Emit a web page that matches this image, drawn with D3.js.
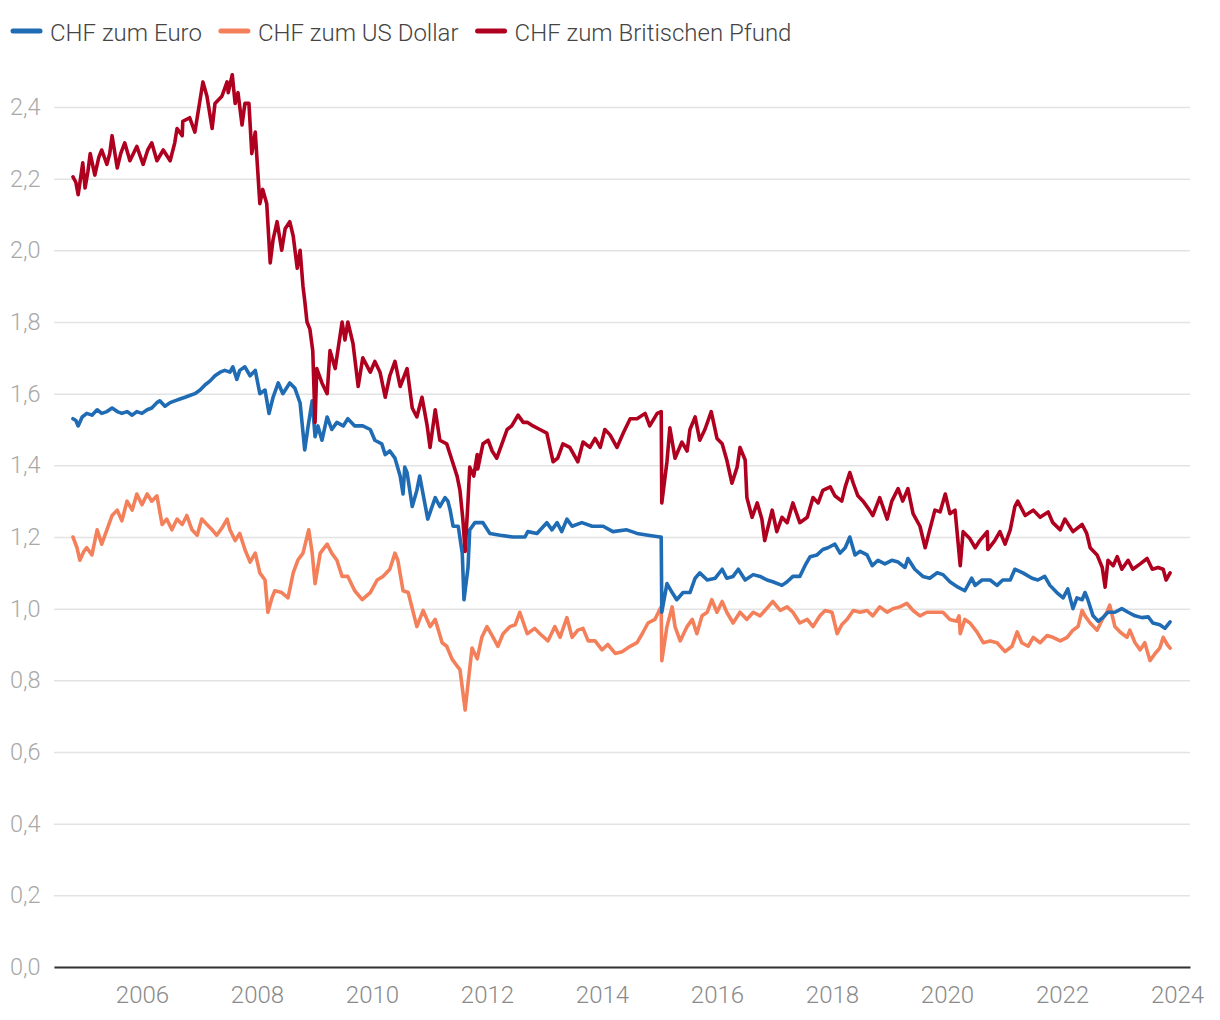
<!DOCTYPE html>
<html>
<head>
<meta charset="utf-8">
<script src="https://cdn.jsdelivr.net/npm/d3@7"></script>
<style>
  html, body { margin: 0; padding: 0; background: #fff; }
  svg { display: block; font-family: Roboto, "Open Sans", sans-serif; }
</style>
</head>
<body>
<svg id="chart" width="1220" height="1020"></svg>
<script>
// ---- Data (decimal year, CHF per unit of foreign currency) ----
const seriesNames = ["CHF zum Euro", "CHF zum US Dollar", "CHF zum Britischen Pfund"];
const seriesColors = ["#1f6bb4", "#f3805a", "#b00020"];

const eurData = [[2004.80,1.53],[2004.85,1.525],[2004.89,1.51],[2004.96,1.535],[2005.04,1.545],[2005.13,1.54],[2005.22,1.555],[2005.30,1.545],[2005.39,1.55],[2005.48,1.56],[2005.57,1.55],[2005.65,1.545],[2005.74,1.55],[2005.83,1.54],[2005.91,1.55],[2006.00,1.545],[2006.09,1.555],[2006.17,1.56],[2006.26,1.575],[2006.31,1.58],[2006.40,1.565],[2006.49,1.575],[2006.57,1.58],[2006.66,1.585],[2006.75,1.59],[2006.83,1.595],[2006.92,1.60],[2007.01,1.61],[2007.10,1.625],[2007.18,1.635],[2007.27,1.65],[2007.36,1.66],[2007.44,1.665],[2007.53,1.66],[2007.58,1.675],[2007.65,1.64],[2007.70,1.665],[2007.79,1.675],[2007.88,1.65],[2007.97,1.665],[2008.05,1.60],[2008.14,1.61],[2008.21,1.545],[2008.28,1.59],[2008.37,1.63],[2008.45,1.60],[2008.57,1.63],[2008.66,1.615],[2008.75,1.574],[2008.83,1.443],[2008.89,1.51],[2008.96,1.58],[2009.01,1.48],[2009.06,1.51],[2009.13,1.47],[2009.22,1.535],[2009.30,1.50],[2009.39,1.52],[2009.50,1.51],[2009.58,1.53],[2009.70,1.51],[2009.84,1.51],[2009.97,1.50],[2010.05,1.47],[2010.17,1.46],[2010.23,1.43],[2010.31,1.44],[2010.40,1.42],[2010.49,1.37],[2010.54,1.32],[2010.57,1.395],[2010.61,1.38],[2010.70,1.285],[2010.78,1.33],[2010.83,1.37],[2010.97,1.25],[2011.10,1.31],[2011.18,1.285],[2011.27,1.31],[2011.32,1.30],[2011.36,1.275],[2011.41,1.23],[2011.50,1.23],[2011.57,1.155],[2011.60,1.025],[2011.67,1.115],[2011.70,1.22],[2011.79,1.24],[2011.93,1.24],[2012.05,1.21],[2012.23,1.205],[2012.45,1.20],[2012.66,1.20],[2012.71,1.215],[2012.87,1.21],[2013.04,1.24],[2013.13,1.22],[2013.22,1.24],[2013.30,1.215],[2013.39,1.25],[2013.48,1.23],[2013.65,1.24],[2013.83,1.23],[2014.02,1.23],[2014.19,1.215],[2014.43,1.22],[2014.61,1.21],[2014.80,1.205],[2015.01,1.20],[2015.03,1.20],[2015.04,0.99],[2015.13,1.07],[2015.22,1.045],[2015.30,1.025],[2015.41,1.045],[2015.53,1.045],[2015.62,1.085],[2015.70,1.10],[2015.83,1.08],[2015.97,1.085],[2016.09,1.11],[2016.17,1.085],[2016.28,1.09],[2016.37,1.11],[2016.49,1.08],[2016.63,1.095],[2016.75,1.09],[2016.87,1.08],[2016.97,1.075],[2017.13,1.065],[2017.22,1.075],[2017.32,1.09],[2017.44,1.09],[2017.53,1.12],[2017.62,1.145],[2017.74,1.15],[2017.84,1.165],[2017.93,1.17],[2018.05,1.18],[2018.14,1.155],[2018.23,1.17],[2018.31,1.20],[2018.40,1.15],[2018.49,1.16],[2018.61,1.15],[2018.70,1.12],[2018.80,1.135],[2018.92,1.125],[2019.04,1.135],[2019.15,1.13],[2019.27,1.115],[2019.32,1.14],[2019.44,1.11],[2019.58,1.09],[2019.70,1.085],[2019.83,1.10],[2019.93,1.095],[2020.05,1.075],[2020.19,1.06],[2020.31,1.05],[2020.43,1.085],[2020.49,1.065],[2020.61,1.08],[2020.75,1.08],[2020.87,1.065],[2020.97,1.08],[2021.10,1.08],[2021.18,1.11],[2021.32,1.10],[2021.48,1.085],[2021.58,1.08],[2021.70,1.09],[2021.79,1.065],[2021.91,1.045],[2022.02,1.03],[2022.10,1.055],[2022.19,1.00],[2022.26,1.03],[2022.35,1.025],[2022.40,1.045],[2022.45,1.025],[2022.54,0.98],[2022.63,0.965],[2022.71,0.975],[2022.80,0.99],[2022.92,0.99],[2023.04,1.00],[2023.15,0.99],[2023.27,0.98],[2023.39,0.975],[2023.50,0.977],[2023.58,0.96],[2023.70,0.955],[2023.79,0.945],[2023.88,0.963]];

const usdData = [[2004.80,1.20],[2004.87,1.17],[2004.92,1.135],[2004.99,1.16],[2005.04,1.17],[2005.13,1.15],[2005.22,1.22],[2005.30,1.18],[2005.39,1.22],[2005.48,1.26],[2005.57,1.275],[2005.65,1.245],[2005.74,1.30],[2005.83,1.275],[2005.91,1.32],[2006.00,1.29],[2006.09,1.32],[2006.17,1.30],[2006.26,1.315],[2006.35,1.235],[2006.43,1.25],[2006.52,1.22],[2006.61,1.25],[2006.70,1.235],[2006.78,1.26],[2006.87,1.22],[2006.96,1.205],[2007.04,1.25],[2007.13,1.235],[2007.22,1.22],[2007.30,1.205],[2007.39,1.225],[2007.48,1.25],[2007.53,1.22],[2007.62,1.19],[2007.70,1.21],[2007.79,1.165],[2007.88,1.13],[2007.97,1.155],[2008.05,1.10],[2008.14,1.08],[2008.19,0.99],[2008.26,1.03],[2008.31,1.05],[2008.43,1.045],[2008.54,1.03],[2008.63,1.10],[2008.71,1.135],[2008.80,1.155],[2008.90,1.22],[2008.96,1.155],[2009.01,1.07],[2009.10,1.155],[2009.22,1.18],[2009.30,1.155],[2009.39,1.135],[2009.48,1.09],[2009.58,1.09],[2009.70,1.05],[2009.83,1.025],[2009.97,1.045],[2010.09,1.08],[2010.19,1.09],[2010.31,1.11],[2010.40,1.155],[2010.45,1.135],[2010.54,1.05],[2010.63,1.045],[2010.78,0.95],[2010.89,0.995],[2011.01,0.95],[2011.10,0.97],[2011.22,0.905],[2011.30,0.895],[2011.39,0.86],[2011.48,0.84],[2011.53,0.83],[2011.62,0.717],[2011.67,0.79],[2011.74,0.89],[2011.83,0.86],[2011.91,0.92],[2012.00,0.95],[2012.09,0.925],[2012.19,0.895],[2012.28,0.93],[2012.40,0.95],[2012.49,0.955],[2012.57,0.99],[2012.70,0.93],[2012.83,0.945],[2012.92,0.93],[2013.06,0.91],[2013.18,0.95],[2013.27,0.92],[2013.39,0.975],[2013.48,0.92],[2013.58,0.94],[2013.67,0.945],[2013.76,0.91],[2013.88,0.91],[2014.00,0.885],[2014.10,0.90],[2014.23,0.875],[2014.35,0.88],[2014.49,0.895],[2014.61,0.905],[2014.70,0.93],[2014.80,0.96],[2014.92,0.97],[2015.01,1.00],[2015.03,1.005],[2015.04,0.855],[2015.13,0.95],[2015.22,1.005],[2015.27,0.95],[2015.36,0.91],[2015.48,0.95],[2015.57,0.97],[2015.65,0.93],[2015.74,0.98],[2015.83,0.99],[2015.91,1.025],[2016.00,0.99],[2016.09,1.02],[2016.17,0.99],[2016.28,0.96],[2016.40,0.99],[2016.52,0.97],[2016.63,0.99],[2016.75,0.98],[2016.89,1.005],[2016.97,1.02],[2017.10,0.995],[2017.22,1.005],[2017.32,0.99],[2017.44,0.96],[2017.57,0.97],[2017.67,0.95],[2017.79,0.98],[2017.88,0.995],[2018.00,0.99],[2018.09,0.93],[2018.17,0.955],[2018.26,0.97],[2018.37,0.995],[2018.49,0.99],[2018.61,0.995],[2018.71,0.98],[2018.83,1.005],[2018.96,0.99],[2019.06,1.00],[2019.18,1.005],[2019.30,1.015],[2019.41,0.995],[2019.53,0.98],[2019.65,0.99],[2019.76,0.99],[2019.93,0.99],[2020.05,0.97],[2020.17,0.965],[2020.21,0.98],[2020.23,0.93],[2020.31,0.97],[2020.40,0.96],[2020.52,0.935],[2020.63,0.905],[2020.75,0.91],[2020.87,0.905],[2021.01,0.88],[2021.13,0.895],[2021.22,0.935],[2021.30,0.905],[2021.41,0.895],[2021.50,0.92],[2021.62,0.905],[2021.74,0.925],[2021.84,0.92],[2021.97,0.91],[2022.09,0.92],[2022.19,0.94],[2022.28,0.95],[2022.35,0.995],[2022.40,0.98],[2022.49,0.96],[2022.61,0.94],[2022.70,0.97],[2022.78,0.99],[2022.83,1.01],[2022.92,0.95],[2023.01,0.935],[2023.13,0.92],[2023.18,0.94],[2023.27,0.905],[2023.36,0.885],[2023.44,0.905],[2023.53,0.855],[2023.62,0.875],[2023.70,0.89],[2023.76,0.92],[2023.83,0.90],[2023.88,0.89]];

const gbpData = [[2004.80,2.205],[2004.85,2.19],[2004.89,2.155],[2004.94,2.21],[2004.97,2.244],[2005.01,2.174],[2005.06,2.22],[2005.10,2.27],[2005.18,2.21],[2005.25,2.26],[2005.30,2.28],[2005.39,2.24],[2005.44,2.27],[2005.48,2.32],[2005.57,2.23],[2005.63,2.27],[2005.70,2.30],[2005.79,2.25],[2005.91,2.29],[2006.02,2.24],[2006.10,2.28],[2006.17,2.30],[2006.26,2.25],[2006.37,2.28],[2006.49,2.25],[2006.57,2.30],[2006.61,2.34],[2006.70,2.32],[2006.71,2.36],[2006.83,2.37],[2006.92,2.33],[2006.97,2.38],[2007.06,2.47],[2007.13,2.43],[2007.22,2.34],[2007.27,2.41],[2007.39,2.43],[2007.48,2.47],[2007.50,2.44],[2007.57,2.49],[2007.62,2.41],[2007.67,2.44],[2007.74,2.35],[2007.79,2.41],[2007.86,2.41],[2007.91,2.27],[2007.97,2.33],[2008.05,2.13],[2008.10,2.17],[2008.17,2.13],[2008.23,1.965],[2008.28,2.03],[2008.35,2.08],[2008.43,2.00],[2008.49,2.06],[2008.57,2.08],[2008.63,2.04],[2008.70,1.95],[2008.75,2.00],[2008.80,1.90],[2008.83,1.86],[2008.87,1.80],[2008.92,1.78],[2008.97,1.72],[2009.01,1.52],[2009.04,1.67],[2009.13,1.63],[2009.22,1.60],[2009.27,1.72],[2009.36,1.67],[2009.48,1.80],[2009.53,1.75],[2009.58,1.80],[2009.67,1.74],[2009.76,1.62],[2009.84,1.70],[2009.97,1.66],[2010.05,1.69],[2010.14,1.66],[2010.23,1.59],[2010.31,1.65],[2010.40,1.69],[2010.49,1.62],[2010.61,1.67],[2010.70,1.56],[2010.78,1.535],[2010.87,1.59],[2010.96,1.51],[2011.01,1.45],[2011.10,1.555],[2011.18,1.47],[2011.30,1.46],[2011.39,1.415],[2011.48,1.37],[2011.53,1.33],[2011.58,1.25],[2011.62,1.16],[2011.67,1.30],[2011.70,1.395],[2011.77,1.37],[2011.83,1.43],[2011.84,1.39],[2011.93,1.46],[2012.02,1.47],[2012.09,1.44],[2012.17,1.42],[2012.26,1.46],[2012.35,1.50],[2012.43,1.51],[2012.54,1.54],[2012.63,1.52],[2012.70,1.52],[2012.80,1.51],[2012.92,1.50],[2013.04,1.49],[2013.15,1.41],[2013.23,1.42],[2013.32,1.46],[2013.44,1.45],[2013.58,1.41],[2013.67,1.465],[2013.79,1.45],[2013.88,1.475],[2013.97,1.45],[2014.05,1.50],[2014.14,1.485],[2014.26,1.45],[2014.37,1.49],[2014.49,1.53],[2014.61,1.53],[2014.75,1.545],[2014.83,1.51],[2014.96,1.545],[2015.03,1.55],[2015.04,1.295],[2015.13,1.41],[2015.18,1.505],[2015.27,1.42],[2015.39,1.465],[2015.48,1.44],[2015.53,1.50],[2015.62,1.535],[2015.70,1.47],[2015.79,1.50],[2015.90,1.55],[2016.00,1.475],[2016.09,1.46],[2016.17,1.415],[2016.26,1.35],[2016.35,1.395],[2016.40,1.45],[2016.49,1.415],[2016.52,1.31],[2016.61,1.255],[2016.70,1.295],[2016.78,1.25],[2016.83,1.19],[2016.96,1.275],[2017.04,1.215],[2017.13,1.255],[2017.22,1.24],[2017.32,1.295],[2017.44,1.24],[2017.57,1.255],[2017.67,1.31],[2017.76,1.295],[2017.84,1.33],[2017.97,1.34],[2018.05,1.315],[2018.17,1.30],[2018.23,1.34],[2018.31,1.38],[2018.37,1.35],[2018.45,1.315],[2018.54,1.30],[2018.63,1.28],[2018.71,1.26],[2018.83,1.31],[2018.96,1.25],[2019.04,1.30],[2019.15,1.335],[2019.23,1.30],[2019.32,1.335],[2019.41,1.265],[2019.53,1.23],[2019.62,1.17],[2019.70,1.22],[2019.79,1.275],[2019.88,1.27],[2019.97,1.32],[2020.05,1.265],[2020.14,1.275],[2020.23,1.12],[2020.28,1.215],[2020.40,1.195],[2020.49,1.17],[2020.57,1.19],[2020.70,1.215],[2020.71,1.165],[2020.83,1.19],[2020.92,1.215],[2021.01,1.18],[2021.10,1.22],[2021.18,1.285],[2021.23,1.30],[2021.36,1.26],[2021.50,1.275],[2021.62,1.255],[2021.76,1.27],[2021.84,1.24],[2021.97,1.22],[2022.05,1.25],[2022.19,1.215],[2022.35,1.235],[2022.43,1.21],[2022.49,1.17],[2022.61,1.15],[2022.70,1.115],[2022.75,1.06],[2022.80,1.135],[2022.89,1.12],[2022.96,1.145],[2023.04,1.11],[2023.15,1.135],[2023.23,1.11],[2023.36,1.125],[2023.48,1.14],[2023.57,1.11],[2023.67,1.115],[2023.76,1.11],[2023.81,1.08],[2023.88,1.10]];

const xTickYears = [2006, 2008, 2010, 2012, 2014, 2016, 2018, 2020, 2022, 2024];
const yTickValues = [0, 0.2, 0.4, 0.6, 0.8, 1.0, 1.2, 1.4, 1.6, 1.8, 2.0, 2.2, 2.4];
const xDomain = [2004.47, 2024.226];
const yDomain = [0, 2.4];

// ---- Layout ----
const margin = { left: 54, right: 30, top: 107, bottom: 53 };
const W = 1220, H = 1020;
const svg = d3.select("#chart");

const x = d3.scaleLinear().domain(xDomain).range([margin.left, W - margin.right]);
const y = d3.scaleLinear().domain(yDomain).range([H - margin.bottom, margin.top]);

const fmt = d => d3.format(".1f")(d).replace(".", ",");

// Grid + y labels
const yAxis = svg.append("g")
  .attr("transform", `translate(${margin.left},0)`)
  .call(d3.axisLeft(y).tickValues(yTickValues).tickFormat(fmt)
        .tickSize(-(W - margin.right - margin.left)).tickPadding(0));
yAxis.select(".domain").remove();
yAxis.selectAll(".tick line").attr("stroke", "#e3e3e3").attr("stroke-width", 1.5);
yAxis.selectAll(".tick text")
  .attr("x", -44).attr("text-anchor", "start")
  .attr("fill", "#a8a8a8").attr("font-size", 23.5).attr("font-weight", 300)
  .attr("font-family", "Roboto, sans-serif");

// X axis
const xAxis = svg.append("g")
  .attr("transform", `translate(0,${H - margin.bottom})`)
  .call(d3.axisBottom(x).tickValues(xTickYears).tickFormat(d => String(d))
        .tickSize(0).tickSizeOuter(0).tickPadding(19));
xAxis.select(".domain").attr("stroke", "#333").attr("stroke-width", 2);
xAxis.selectAll(".tick text")
  .attr("fill", "#8a8a8a").attr("font-size", 24).attr("font-weight", 300)
  .attr("font-family", "Roboto, sans-serif");

// Lines (drawn USD, EUR, GBP so that GBP is on top)
const line = d3.line().x(d => x(d[0])).y(d => y(d[1]));
const drawOrder = [[usdData, seriesColors[1]], [eurData, seriesColors[0]], [gbpData, seriesColors[2]]];
drawOrder.forEach(([data, color]) => {
  svg.append("path")
    .datum(data)
    .attr("d", line)
    .attr("fill", "none")
    .attr("stroke", color)
    .attr("stroke-width", 3.6)
    .attr("stroke-linejoin", "round")
    .attr("stroke-linecap", "round");
});

// Legend
const legend = svg.append("g");
let lx = 12;
seriesNames.forEach((name, i) => {
  const g = legend.append("g");
  g.append("line")
    .attr("x1", lx + 1).attr("x2", lx + 28)
    .attr("y1", 31).attr("y2", 31)
    .attr("stroke", seriesColors[i]).attr("stroke-width", 5)
    .attr("stroke-linecap", "round");
  const t = g.append("text")
    .attr("x", lx + 38).attr("y", 41)
    .attr("fill", "#444").attr("font-size", 24).attr("font-weight", 300)
    .attr("font-family", "Roboto, sans-serif")
    .text(name);
  lx = lx + 38 + t.node().getComputedTextLength() + 18;
});
</script>
</body>
</html>
